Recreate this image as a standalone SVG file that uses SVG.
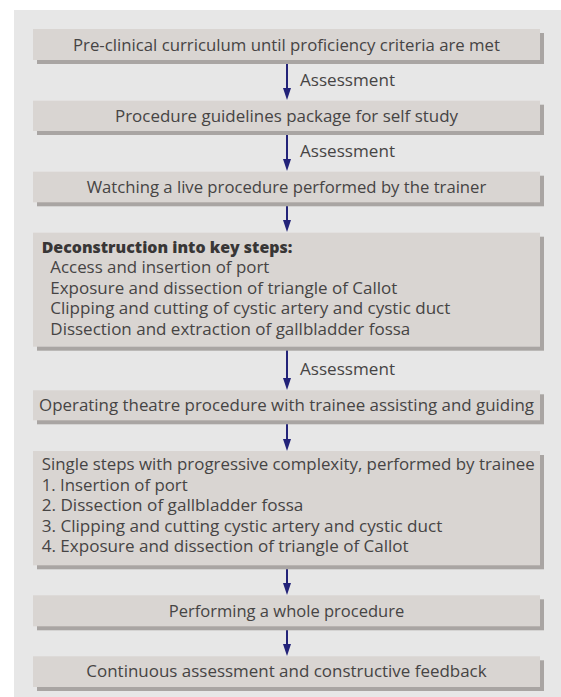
<svg xmlns="http://www.w3.org/2000/svg" width="561" height="697" viewBox="0 0 561 697">
<style>
.bg{fill:#e7e7e7}
.box{fill:#d9d5d2}
.sh{fill:#a9a5a3}
.t{font-family:"Open Sans","Liberation Sans",sans-serif;font-size:15.5px;fill:#464444}
.c{text-anchor:middle}
.b{font-family:"Open Sans","Liberation Sans",sans-serif;font-size:15.5px;font-weight:800;fill:#383636}
.ln{stroke:#232379;stroke-width:2;fill:none}
.hd{fill:#232379}
</style>
<rect class="bg" x="14" y="10" width="547" height="687"/>
<g id="connectors">
<line class="ln" x1="287" y1="60" x2="287" y2="89"/><polygon class="hd" points="283,88 291,88 287,100"/>
<line class="ln" x1="287" y1="131" x2="287" y2="160"/><polygon class="hd" points="283,159 291,159 287,171"/>
<line class="ln" x1="287" y1="202" x2="287" y2="221"/><polygon class="hd" points="283,220 291,220 287,232"/>
<line class="ln" x1="287" y1="346" x2="287" y2="379"/><polygon class="hd" points="283,378 291,378 287,390"/>
<line class="ln" x1="287" y1="420" x2="287" y2="440"/><polygon class="hd" points="283,439 291,439 287,451"/>
<line class="ln" x1="287" y1="565" x2="287" y2="584"/><polygon class="hd" points="283,583 291,583 287,595"/>
<line class="ln" x1="287" y1="626" x2="287" y2="645"/><polygon class="hd" points="283,644 291,644 287,656"/>
<text class="t" x="300" y="86" textLength="95" lengthAdjust="spacingAndGlyphs">Assessment</text>
<text class="t" x="300" y="157" textLength="95" lengthAdjust="spacingAndGlyphs">Assessment</text>
<text class="t" x="300" y="374.5" textLength="95" lengthAdjust="spacingAndGlyphs">Assessment</text>
</g>
<g id="n1">
<rect class="sh" x="37" y="33" width="507" height="31"/>
<rect class="box" x="33" y="29" width="507" height="31"/>
<text class="t c" x="286.5" y="50.5" textLength="427" lengthAdjust="spacingAndGlyphs">Pre-clinical curriculum until proficiency criteria are met</text>
</g>
<g id="n2">
<rect class="sh" x="37" y="104.7" width="507" height="30.3"/>
<rect class="box" x="33" y="100.7" width="507" height="30.3"/>
<text class="t c" x="286.5" y="122" textLength="343" lengthAdjust="spacingAndGlyphs">Procedure guidelines package for self study</text>
</g>
<g id="n3">
<rect class="sh" x="37" y="175.7" width="507" height="30.6"/>
<rect class="box" x="33" y="171.7" width="507" height="30.6"/>
<text class="t c" x="286.5" y="193" textLength="399.6" lengthAdjust="spacingAndGlyphs">Watching a live procedure performed by the trainer</text>
</g>
<g id="n4">
<rect class="sh" x="37" y="236.7" width="507" height="114"/>
<rect class="box" x="33" y="232.7" width="507" height="114"/>
<text class="b" x="41.7" y="252.5" textLength="250.6" lengthAdjust="spacingAndGlyphs">Deconstruction into key steps:</text>
<text class="t" x="50.3" y="273" textLength="219" lengthAdjust="spacingAndGlyphs">Access and insertion of port</text>
<text class="t" x="50.3" y="293.5" textLength="347" lengthAdjust="spacingAndGlyphs">Exposure and dissection of triangle of Callot</text>
<text class="t" x="50.3" y="314" textLength="400" lengthAdjust="spacingAndGlyphs">Clipping and cutting of cystic artery and cystic duct</text>
<text class="t" x="50.3" y="334.5" textLength="360" lengthAdjust="spacingAndGlyphs">Dissection and extraction of gallbladder fossa</text>
</g>
<g id="n5">
<rect class="sh" x="37" y="394.3" width="507" height="30"/>
<rect class="box" x="33" y="390.3" width="507" height="30"/>
<text class="t c" x="286.5" y="410.5" textLength="495" lengthAdjust="spacingAndGlyphs">Operating theatre procedure with trainee assisting and guiding</text>
</g>
<g id="n6">
<rect class="sh" x="37" y="455" width="507" height="114.3"/>
<rect class="box" x="33" y="451" width="507" height="114.3"/>
<text class="t" x="41.7" y="470" textLength="493" lengthAdjust="spacingAndGlyphs">Single steps with progressive complexity, performed by trainee</text>
<text class="t" x="41.7" y="490.5" textLength="146" lengthAdjust="spacingAndGlyphs">1. Insertion of port</text>
<text class="t" x="41.7" y="511" textLength="261.7" lengthAdjust="spacingAndGlyphs">2. Dissection of gallbladder fossa</text>
<text class="t" x="41.7" y="531.5" textLength="400.7" lengthAdjust="spacingAndGlyphs">3. Clipping and cutting cystic artery and cystic duct</text>
<text class="t" x="41.7" y="552" textLength="367" lengthAdjust="spacingAndGlyphs">4. Exposure and dissection of triangle of Callot</text>
</g>
<g id="n7">
<rect class="sh" x="37" y="599.3" width="507" height="31"/>
<rect class="box" x="33" y="595.3" width="507" height="31"/>
<text class="t c" x="286.5" y="616.5" textLength="235.5" lengthAdjust="spacingAndGlyphs">Performing a whole procedure</text>
</g>
<g id="n8">
<rect class="sh" x="37" y="660.3" width="507" height="30.7"/>
<rect class="box" x="33" y="656.3" width="507" height="30.7"/>
<text class="t c" x="286.5" y="677" textLength="400.3" lengthAdjust="spacingAndGlyphs">Continuous assessment and constructive feedback</text>
</g>
</svg>
